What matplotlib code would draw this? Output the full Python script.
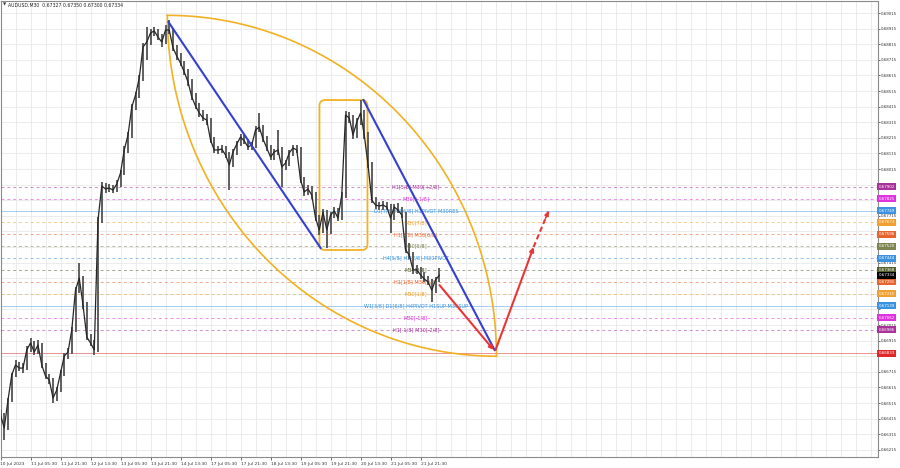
import matplotlib
matplotlib.use("Agg")
import matplotlib.pyplot as plt
import matplotlib.transforms as mtransforms
from matplotlib.patches import FancyBboxPatch
import numpy as np

plt.rcParams['font.family'] = ['DejaVu Sans']

# ---------------- data ----------------
bar_hours = 2.0  # one sample every 2 trading hours (M30 chart condensed)
closes = [0.66438, 0.66355, 0.66534, 0.66695, 0.66759, 0.66739, 0.66739, 0.66855, 0.66900, 0.66842,
          0.66887, 0.66759, 0.66688, 0.66663, 0.66547, 0.66598, 0.66707, 0.66816, 0.66842, 0.66983,
          0.67239, 0.67316, 0.67143, 0.66938, 0.66900, 0.66855, 0.67688, 0.67906, 0.67887, 0.67893,
          0.67880, 0.67919, 0.67989, 0.68137, 0.68233, 0.68412, 0.68489, 0.68598, 0.68797, 0.68829,
          0.68887, 0.68900, 0.68861, 0.68829, 0.68906, 0.68906, 0.68791, 0.68739, 0.68694, 0.68637,
          0.68573, 0.68477, 0.68419, 0.68374, 0.68342, 0.68329, 0.68201, 0.68137, 0.68137, 0.68143,
          0.68105, 0.68041, 0.68124, 0.68175, 0.68220, 0.68195, 0.68156, 0.68169, 0.68265, 0.68284,
          0.68207, 0.68150, 0.68092, 0.68124, 0.68137, 0.68028, 0.68053, 0.68118, 0.68150, 0.68137,
          0.67945, 0.67868, 0.67887, 0.67848, 0.67701, 0.67624, 0.67739, 0.67624, 0.67720, 0.67746,
          0.67701, 0.67848, 0.68361, 0.68342, 0.68233, 0.68316, 0.68374, 0.68233, 0.68041, 0.67816,
          0.67784, 0.67778, 0.67784, 0.67771, 0.67701, 0.67771, 0.67752, 0.67720, 0.67496, 0.67464,
          0.67368, 0.67368, 0.67336, 0.67310, 0.67291, 0.67239, 0.67304, 0.67334]
highs = [0.66470, 0.66450, 0.66550, 0.66710, 0.66790, 0.66775, 0.66770, 0.66880, 0.66930, 0.66915,
         0.66920, 0.66900, 0.66770, 0.66700, 0.66675, 0.66620, 0.66725, 0.66835, 0.66870, 0.67000,
         0.67260, 0.67412, 0.67330, 0.67160, 0.66955, 0.66920, 0.67710, 0.67930, 0.67925, 0.67920,
         0.67915, 0.67945, 0.68010, 0.68160, 0.68255, 0.68430, 0.68510, 0.68620, 0.68820, 0.68925,
         0.68910, 0.68925, 0.68915, 0.68880, 0.68935, 0.68970, 0.68920, 0.68810, 0.68760, 0.68710,
         0.68655, 0.68590, 0.68500, 0.68440, 0.68395, 0.68365, 0.68345, 0.68220, 0.68165, 0.68170,
         0.68160, 0.68125, 0.68145, 0.68195, 0.68240, 0.68235, 0.68210, 0.68190, 0.68290, 0.68374,
         0.68300, 0.68225, 0.68170, 0.68145, 0.68265, 0.68155, 0.68075, 0.68140, 0.68170, 0.68170,
         0.68155, 0.67965, 0.67910, 0.67905, 0.67865, 0.67720, 0.67760, 0.67755, 0.67740, 0.67770,
         0.67765, 0.67870, 0.68385, 0.68380, 0.68360, 0.68340, 0.68457, 0.68395, 0.68255, 0.68060,
         0.67835, 0.67805, 0.67810, 0.67805, 0.67790, 0.67790, 0.67795, 0.67770, 0.67740, 0.67540,
         0.67485, 0.67400, 0.67390, 0.67355, 0.67330, 0.67310, 0.67325, 0.67380]
lows = [0.66400, 0.66278, 0.66340, 0.66520, 0.66680, 0.66720, 0.66710, 0.66725, 0.66840, 0.66820,
        0.66830, 0.66740, 0.66670, 0.66640, 0.66515, 0.66530, 0.66585, 0.66690, 0.66800, 0.66830,
        0.66970, 0.67220, 0.67120, 0.66920, 0.66880, 0.66823, 0.66840, 0.67670, 0.67860, 0.67865,
        0.67860, 0.67865, 0.67900, 0.67975, 0.68120, 0.68215, 0.68395, 0.68470, 0.68580, 0.68714,
        0.68810, 0.68870, 0.68840, 0.68800, 0.68815, 0.68880, 0.68770, 0.68715, 0.68675, 0.68615,
        0.68550, 0.68455, 0.68400, 0.68350, 0.68320, 0.68300, 0.68180, 0.68115, 0.68110, 0.68115,
        0.68085, 0.67880, 0.68025, 0.68105, 0.68160, 0.68175, 0.68135, 0.68140, 0.68150, 0.68250,
        0.68185, 0.68130, 0.68070, 0.68075, 0.68105, 0.67900, 0.68010, 0.68035, 0.68100, 0.68115,
        0.67925, 0.67845, 0.67850, 0.67825, 0.67680, 0.67590, 0.67605, 0.67509, 0.67600, 0.67700,
        0.67680, 0.67685, 0.67830, 0.68310, 0.68210, 0.68215, 0.68300, 0.68210, 0.68020, 0.67795,
        0.67760, 0.67755, 0.67755, 0.67750, 0.67605, 0.67685, 0.67730, 0.67700, 0.67475, 0.67440,
        0.67345, 0.67340, 0.67310, 0.67290, 0.67270, 0.67163, 0.67220, 0.67290]

x_tick_labels = ["10 Jul 2023", "11 Jul 05:30", "11 Jul 21:30", "12 Jul 13:30", "13 Jul 05:30",
                 "13 Jul 21:30", "14 Jul 13:30", "17 Jul 05:30", "17 Jul 21:30", "18 Jul 13:30",
                 "19 Jul 05:30", "19 Jul 21:30", "20 Jul 13:30", "21 Jul 05:30", "21 Jul 21:30"]
x_tick_hours = [0, 16, 32, 48, 64, 80, 96, 112, 128, 144, 160, 176, 192, 208, 224]
y_tick_prices = [0.66215, 0.66315, 0.66415, 0.66515, 0.66615, 0.66715, 0.66815, 0.66915, 0.67015,
                 0.67115, 0.67215, 0.67315, 0.67415, 0.67515, 0.67615, 0.67715, 0.67815, 0.67915,
                 0.68015, 0.68115, 0.68215, 0.68315, 0.68415, 0.68515, 0.68615, 0.68715, 0.68815,
                 0.68915, 0.69015]

level_prices = [0.67902, 0.67825, 0.67749, 0.67673, 0.67596, 0.67520, 0.67444, 0.67368,
                0.67291, 0.67215, 0.67139, 0.67062, 0.66986]
level_texts = ["H1[5/8] M30[+2/8]", "M30[+1/8]", "D1[7/8] H4[6/8] H1PIVOT M30RES", "M30[7/8]",
               "H1[3/8] M30[6/8]", "M30[5/8]", "H4[5/8] H1[2/8] M30PIVOT", "M30[3/8]",
               "H1[1/8] M30[2/8]", "M30[1/8]", "W1[3/8] D1[6/8] H4PIVOT H1SUP M30SUP",
               "M30[-1/8]", "H1[-1/8] M30[-2/8]"]
level_colors = ["#a8329a", "#e033e0", "#3a92e0", "#f0a030", "#e8642e", "#7d8450", "#3a92e0",
                "#56602e", "#e8642e", "#f0a030", "#3a92e0", "#e033e0", "#a8329a"]
level_solid = [False, False, True, False, False, False, False, False, False, False, True, False, False]
current_price = 0.67334
target_level = 0.66833
title_text = "AUDUSD,M30  0.67327 0.67350 0.67300 0.67334"

# pattern annotations (hours, price)
arc_start = (89.0, 0.69000)
arc_end = (264.5, 0.66815)
blue_1 = [(89.6, 0.68957), (170.7, 0.67509)]
blue_2 = [(193.6, 0.68457), (263.5, 0.66855)]
box_corners = [(170.1, 0.67496), (195.7, 0.68457)]
red_down = [(234.1, 0.67271), (263.0, 0.66855)]
red_up = [(264.0, 0.66855), (284.3, 0.67515)]
red_up_dashed = [(284.3, 0.67515), (292.3, 0.67746)]

# ---------------- figure ----------------
W, H = 900, 468
fig = plt.figure(figsize=(9, 4.68), dpi=100)
ax = fig.add_axes([0.5 / W, 11 / H, 877 / W, 456 / H])
ax.set_xlim(0, 467.7)
ax.set_ylim(0.66169, 0.69092)
ax.set_facecolor("white")

for s in ax.spines.values():
    s.set_color("#8a8a8a")
    s.set_linewidth(0.8)

# grid
for h in np.arange(0, 468, 8):
    ax.axvline(h, color="#e9e9e9", lw=0.6, zorder=0)
for p in y_tick_prices:
    ax.axhline(p, color="#e9e9e9", lw=0.6, zorder=0)

# levels
for p, c, solid in zip(level_prices, level_colors, level_solid):
    if solid:
        ax.axhline(p, color=c, lw=0.7, alpha=0.45, zorder=1)
    else:
        ax.axhline(p, color=c, lw=0.7, alpha=0.55, ls=(0, (3, 3)), zorder=1)
ax.axhline(target_level, color="#e04848", lw=0.7, alpha=0.6, zorder=1)

for p, t, c in zip(level_prices, level_texts, level_colors):
    ax.text(221.5, p, t, color=c, fontsize=3.6, ha="center", va="center", zorder=2)

# arcs
th = np.linspace(0, np.pi / 2, 200)
a = arc_end[0] - arc_start[0]
b = arc_start[1] - arc_end[1]
ax.plot(arc_start[0] + a * np.sin(th), arc_end[1] + b * np.cos(th), color="#f2b122", lw=1.2, zorder=3)
ax.plot(arc_end[0] - a * np.cos(th), arc_start[1] - b * np.sin(th), color="#f2b122", lw=1.2, zorder=3)

# rounded box
px_per_hour = (877 / 467.7)
px_per_price = 456 / (0.69092 - 0.66169)
aspect = px_per_hour / px_per_price
(bx0, by0), (bx1, by1) = box_corners
box = FancyBboxPatch((bx0, by0), bx1 - bx0, by1 - by0,
                     boxstyle="round,pad=0,rounding_size=3", mutation_aspect=aspect,
                     fc="none", ec="#f2b122", lw=1.3, zorder=3)
ax.add_patch(box)

# price bars
times = np.arange(len(closes)) * bar_hours
ax.vlines(times, lows, highs, color="#5e5e5e", lw=1.4, zorder=4)
ax.plot(times, closes, color="#262626", lw=0.9, zorder=5)

# blue trend lines
for seg in (blue_1, blue_2):
    ax.plot([seg[0][0], seg[1][0]], [seg[0][1], seg[1][1]], color="#3440d0", lw=1.5, zorder=6)

# red arrows
red = "#e83636"
for seg in (red_down, red_up):
    ax.annotate("", xy=seg[1], xytext=seg[0],
                arrowprops=dict(arrowstyle="-|>", color=red, lw=1.5, mutation_scale=6,
                                shrinkA=0, shrinkB=0), zorder=7)
ax.plot([red_up_dashed[0][0], red_up_dashed[1][0]], [red_up_dashed[0][1], red_up_dashed[1][1]],
        color=red, lw=1.5, ls=(0, (2.5, 1.5)), zorder=7)
ax.annotate("", xy=red_up_dashed[1],
            xytext=(red_up_dashed[1][0] - (red_up_dashed[1][0] - red_up_dashed[0][0]) * 0.2,
                    red_up_dashed[1][1] - (red_up_dashed[1][1] - red_up_dashed[0][1]) * 0.2),
            arrowprops=dict(arrowstyle="-|>", color=red, lw=1.2, mutation_scale=6,
                            shrinkA=0, shrinkB=0), zorder=7)

# right price boxes
box_prices = level_prices + [current_price, target_level]
box_colors = level_colors + ["#000000", "#e02828"]

# ticks (labels hidden where a price box covers them, as on the terminal)
ax.yaxis.tick_right()
ax.set_yticks(y_tick_prices)
ax.set_yticklabels([f"{p:.5f}" if min(abs(p - q) for q in box_prices) >= 0.00025 else ""
                    for p in y_tick_prices])
ax.set_xticks(x_tick_hours)
ax.set_xticklabels(x_tick_labels, ha="left")
ax.tick_params(axis="y", length=1.5, pad=1.0, labelsize=2.9, colors="#333333", width=0.5)
ax.tick_params(axis="x", length=2, pad=1.5, labelsize=3.2, colors="#333333", width=0.5)

trans = mtransforms.blended_transform_factory(ax.transAxes, ax.transData)
for p, c in zip(box_prices, box_colors):
    ax.text(1.0012, p, f"{p:.5f}", transform=trans, fontsize=2.9, color="white",
            ha="left", va="center", zorder=10, clip_on=False,
            bbox=dict(boxstyle="square,pad=0.35", fc=c, ec="none"))

# title
fig.text(2.5 / W, 1 - 5 / H, "\u25BC", fontsize=3, color="#333333", va="center", ha="left")
fig.text(8 / W, 1 - 5 / H, title_text, fontsize=3.3, color="#222222", va="center", ha="left")

fig.savefig("out.png", dpi=100, facecolor="white")
